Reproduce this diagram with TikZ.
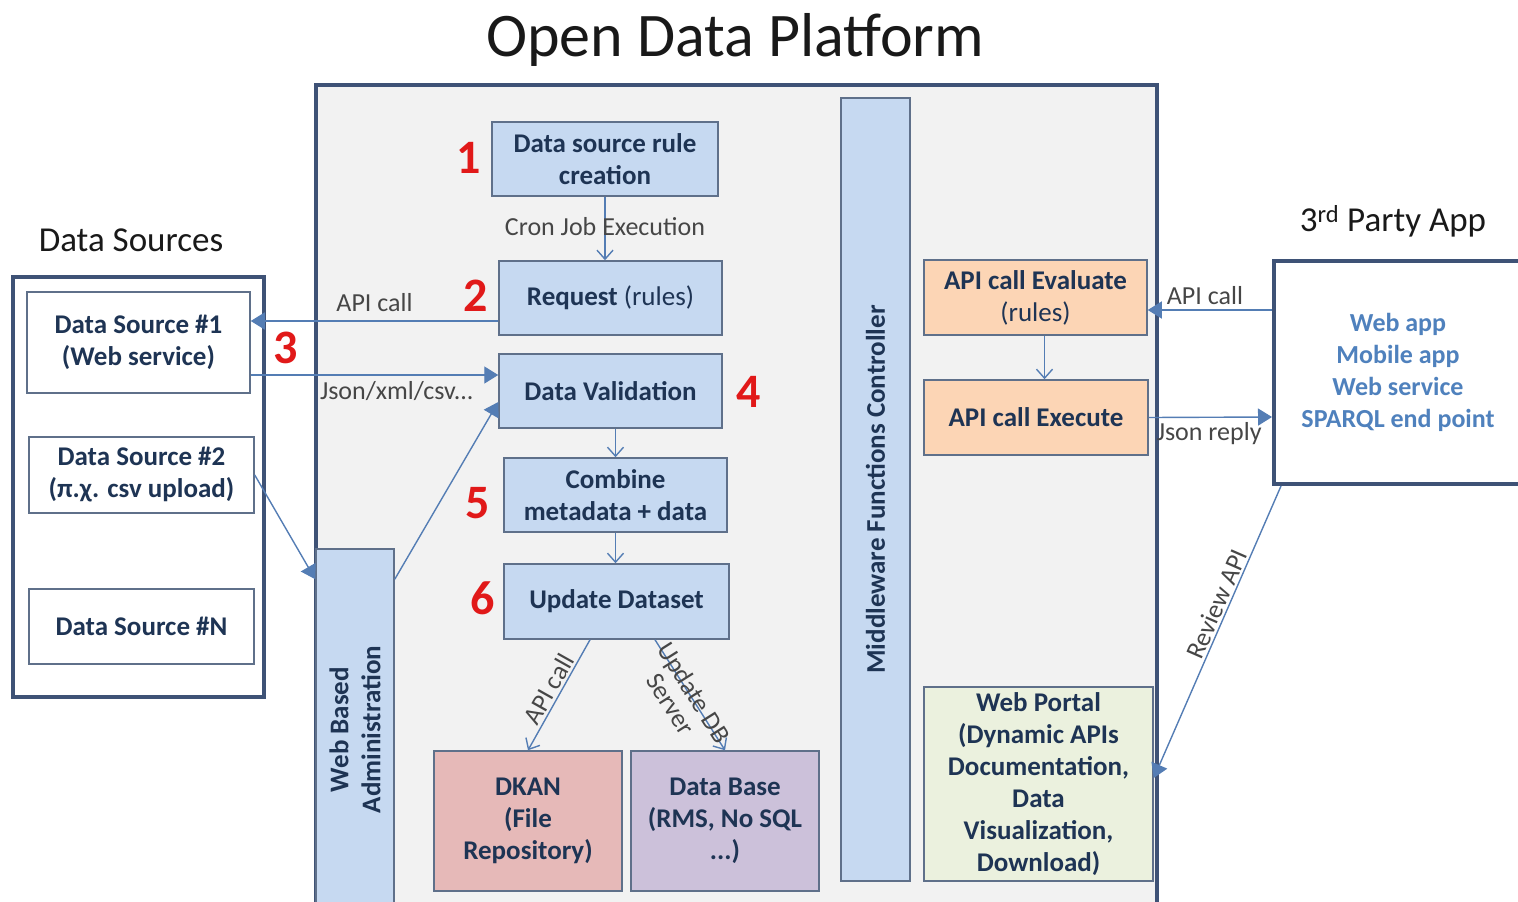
\documentclass[tikz,border=0pt]{standalone}
\usepackage{fontspec}
\setmainfont{Carlito}
\usetikzlibrary{arrows.meta}
\definecolor{frame}{RGB}{62,82,118}
\definecolor{boxline}{RGB}{95,112,138}
\definecolor{lightblue}{RGB}{198,217,241}
\definecolor{platform}{RGB}{242,242,242}
\definecolor{ink}{RGB}{30,52,84}
\definecolor{wire}{RGB}{84,125,180}
\definecolor{pink}{RGB}{230,185,184}
\definecolor{lilac}{RGB}{204,193,218}
\definecolor{peach}{RGB}{252,213,181}
\definecolor{sage}{RGB}{235,241,222}
\definecolor{appblue}{RGB}{79,129,189}
\definecolor{numred}{RGB}{225,25,25}
\definecolor{labelgray}{RGB}{70,70,70}
\begin{document}
\begin{tikzpicture}[x=1pt, y=-1pt,
	box/.style={draw=boxline, line width=1.5pt, fill=lightblue, text=ink, align=center, inner sep=0pt, font=\fontsize{27}{32}\selectfont\bfseries},
	outer/.style={draw=frame, line width=4pt, inner sep=0pt},
	call/.style={draw=wire, line width=1.4pt, -{Triangle[length=14pt, width=17pt]}},
	flow/.style={draw=wire, line width=1.4pt, -{Straight Barb[length=9pt, width=16pt, line width=1.4pt]}},
	lbl/.style={text=labelgray, inner sep=2pt, font=\fontsize{26}{30}\selectfont},
	num/.style={text=numred, font=\fontsize{48}{48}\selectfont\bfseries},
	head/.style={text=black!90, font=\fontsize{35}{40}\selectfont}]
	\clip (0,0) rectangle (1518,902);
	\node[head, font=\fontsize{62}{66}\selectfont] (title) at (735,40) {Open Data Platform};
	\node[head] (dshead) at (131,240) {Data Sources};
	\node[head] (apphead) at (1393,221) {3\textsuperscript{rd} Party App};
	\node[outer, fill=platform, minimum width=841, minimum height=830] (odp) at (736.5,500) {};
	\node[outer, fill=white, minimum width=251, minimum height=420] (dsrc) at (138.5,487) {};
	\node[outer, fill=white, text=appblue, align=center, font=\fontsize{26}{32}\selectfont\bfseries, minimum width=248, minimum height=223] (third) at (1398,372.5) {Web app\\Mobile app\\Web service\\SPARQL end point};
	\node[box, fill=white, minimum width=223, minimum height=101] (ds1) at (138.5,342.5) {Data Source \#1\\(Web service)};
	\node[box, fill=white, minimum width=225, minimum height=76] (ds2) at (141.5,475) {Data Source \#2\\(π.χ. csv upload)};
	\node[box, fill=white, minimum width=225, minimum height=75] (dsn) at (141.5,626.5) {Data Source \#N};
	\node[box, rotate=90, minimum width=361, minimum height=78] (admin) at (355,729.5) {Web Based\\Administration};
	\node[box, rotate=90, minimum width=783, minimum height=69] (mid) at (875.5,489.5) {Middleware Functions Controller};
	\node[box, minimum width=226, minimum height=74] (rule) at (605,159) {Data source rule\\creation};
	\node[box, minimum width=223, minimum height=74] (req) at (610.5,298) {Request {\mdseries(rules)}};
	\node[box, minimum width=223, minimum height=74] (valid) at (610.5,391) {Data Validation};
	\node[box, minimum width=223, minimum height=74] (comb) at (615.5,495) {Combine\\metadata + data};
	\node[box, minimum width=225, minimum height=75] (upd) at (616.5,601.5) {Update Dataset};
	\node[box, fill=pink, minimum width=188, minimum height=140] (dkan) at (528,821) {DKAN\\(File\\Repository)};
	\node[box, fill=lilac, minimum width=188, minimum height=140] (db) at (725,821) {Data Base\\(RMS, No SQL\\...)};
	\node[box, fill=peach, minimum width=223, minimum height=75] (eval) at (1035.5,297.5) {API call Evaluate\\{\mdseries(rules)}};
	\node[box, fill=peach, minimum width=224, minimum height=75] (exec) at (1036,417.5) {API call Execute};
	\node[box, fill=sage, minimum width=229, minimum height=194] (portal) at (1038.5,784) {Web Portal\\(Dynamic APIs\\Documentation,\\Data\\Visualization,\\Download)};
	\foreach \n/\px/\py in {1/469/158, 2/476/296, 3/286/348, 4/749/392, 5/478/503, 6/483/598}
		\node[num] (step\n) at (\px,\py) {\n};
	\draw[flow] (rule.south) -- (rule.south |- req.north) node[lbl, midway, yshift=2pt]{Cron Job Execution};
	\draw[call] ([yshift=-23pt]req.west) -- ([yshift=21.5pt]ds1.east) node[lbl, midway, above=7pt]{API call};
	\draw[call] ([yshift=-32.5pt]ds1.east) -- ([yshift=16pt]valid.west) node[lbl, pos=0.59, below=4pt]{Json/xml/csv...};
	\draw[call] (ds2.east) -- ([yshift=-31pt]admin.north east);
	\draw[call] ([yshift=-31pt]admin.south east) -- ([yshift=-11pt]valid.west);
	\draw[flow] (comb.north |- valid.south) -- (comb.north);
	\draw[flow] (comb.south) -- (comb.south |- upd.north);
	\draw[flow] ([xshift=-26.5pt]upd.south) -- (dkan.north) node[lbl, midway, sloped, above]{API call};
	\draw[flow] ([xshift=38.5pt]upd.south) -- (db.north) node[lbl, pos=0.5, sloped, above=-11pt]{Update DB} node[lbl, pos=0.48, sloped, below=10pt]{Server};
	\draw[call] ([yshift=62.5pt]third.west) -- ([yshift=-12.5pt]eval.east) node[lbl, pos=0.54, above=3pt]{API call};
	\draw[flow] ([xshift=9pt]eval.south) -- ([xshift=9pt]eval.south |- exec.north);
	\draw[call] (exec.east) -- ([yshift=-44.5pt]third.west) node[lbl, pos=0.49, below=2pt]{Json reply};
	\draw[call] ([xshift=9pt]third.south west) -- ([yshift=6pt]portal.east) node[lbl, pos=0.42, sloped, above]{Review API};
\end{tikzpicture}
\end{document}
